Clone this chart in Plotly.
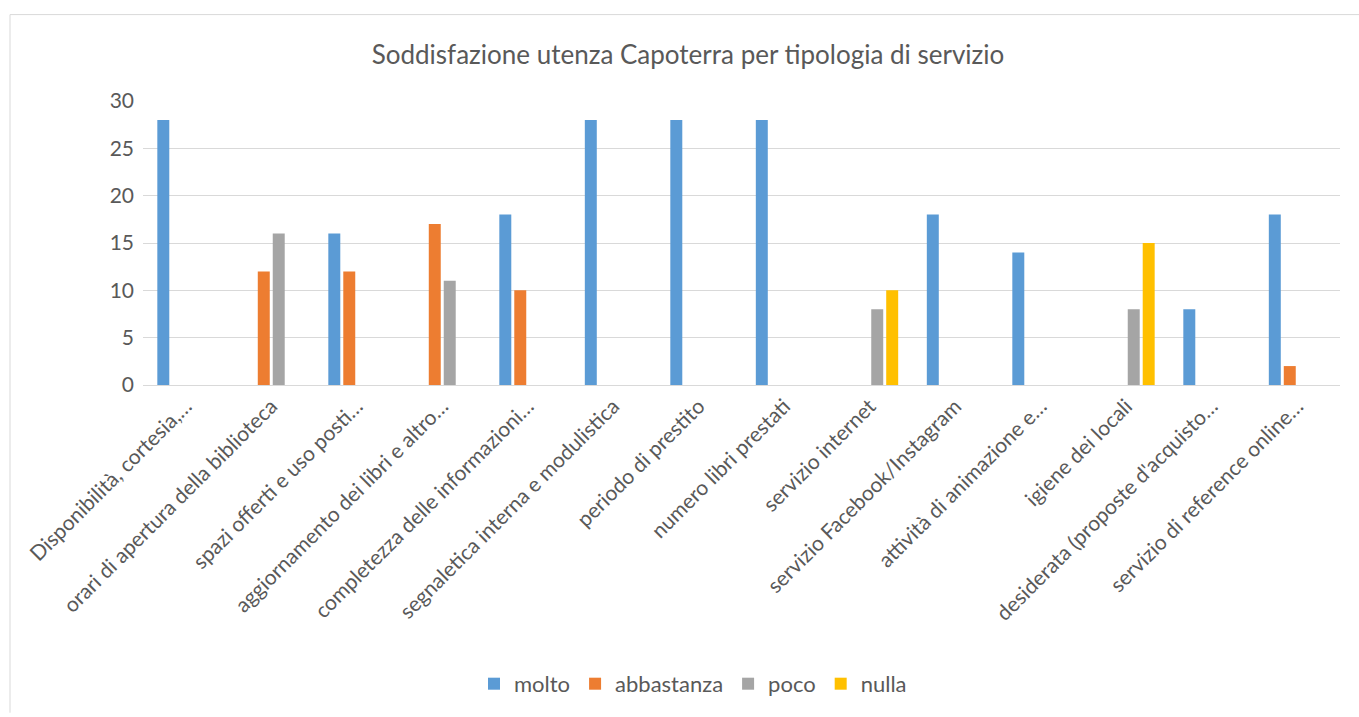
import plotly.graph_objects as go

categories = [
    "Disponibilità, cortesia,…",
    "orari di apertura della biblioteca",
    "spazi offerti e uso posti…",
    "aggiornamento dei libri e altro…",
    "completezza delle informazioni…",
    "segnaletica interna e modulistica",
    "periodo di prestito",
    "numero libri prestati",
    "servizio internet",
    "servizio Facebook/Instagram",
    "attività di animazione e…",
    "igiene dei locali",
    "desiderata (proposte d'acquisto…",
    "servizio di reference online…",
]
molto =       [28, None, 16, None, 18, 28, 28, 28, None, 18, 14, None, 8, 18]
abbastanza =  [None, 12, 12, 17, 10, None, None, None, None, None, None, None, None, 2]
poco =        [None, 16, None, 11, None, None, None, None, 8, None, None, 8, None, None]
nulla =       [None, None, None, None, None, None, None, None, 10, None, None, 15, None, None]

series = [("molto", molto, "#5B9BD5"), ("abbastanza", abbastanza, "#ED7D31"),
          ("poco", poco, "#A5A5A5"), ("nulla", nulla, "#FFC000")]

fig = go.Figure()
for name, vals, col in series:
    fig.add_trace(go.Bar(name=name, x=categories, y=vals, marker=dict(color=col, line=dict(width=0))))

FONT = "Lato"
TXT = "#595959"
L, R, T, B = 143, 19, 101, 330
W, H = 1359, 717
pw = W - L - R
ph = H - T - B

fig.update_layout(
    width=W, height=H,
    margin=dict(l=L, r=R, t=T, b=B),
    paper_bgcolor="white", plot_bgcolor="white",
    barmode="group", bargap=0.3, bargroupgap=0.2,
    title=dict(text="Soddisfazione utenza Capoterra per tipologia di servizio",
               x=688 / W, xanchor="center", y=1 - 55 / H, yanchor="middle",
               font=dict(family=FONT, size=26, color=TXT)),
    font=dict(family=FONT, color=TXT),
    xaxis=dict(tickangle=-45, tickfont=dict(family=FONT, size=21, color=TXT),
               showgrid=False, showline=False, ticks="", automargin=False,
               ticklabelstandoff=4),
    yaxis=dict(range=[0, 30], dtick=5, tickfont=dict(family=FONT, size=21, color=TXT),
               showgrid=True, gridcolor="#D9D9D9", gridwidth=1, zeroline=True,
               zerolinecolor="#D9D9D9", zerolinewidth=1, ticks="", ticklen=0,
               showline=False, automargin=False, ticklabelstandoff=8),
    legend=dict(orientation="h", x=(693 - L) / pw, xanchor="center", y=(387 - 688) / ph, yanchor="middle",
                font=dict(family=FONT, size=22, color=TXT), traceorder="normal",
                itemwidth=30),
    showlegend=True,
)

# chart-area border (left and top edges visible)
x0 = (10 - L) / pw
ytop = (H - B - 14) / ph
ybot = (H - B - 717) / ph
fig.add_shape(type="line", xref="paper", yref="paper", x0=x0, x1=x0, y0=ybot, y1=ytop,
              line=dict(color="#D9D9D9", width=1))
fig.add_shape(type="line", xref="paper", yref="paper", x0=x0, x1=(W - L) / pw + 0.01, y0=ytop, y1=ytop,
              line=dict(color="#D9D9D9", width=1))

fig.write_html("out.html")
